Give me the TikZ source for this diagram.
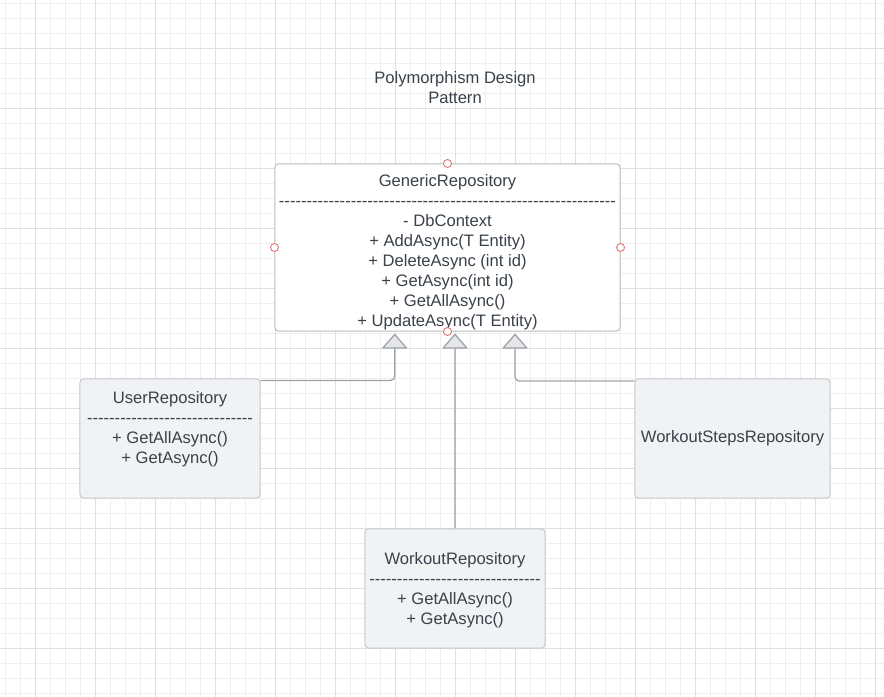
\documentclass[tikz,border=0pt]{standalone}
\usepackage{fontspec}
\setmainfont{Liberation Sans}[Ligatures=TeXOff]
\usetikzlibrary{calc,arrows.meta}
\definecolor{inkgray}{HTML}{3A414A}
\definecolor{gridminor}{HTML}{EFEFEF}
\definecolor{gridmajor}{HTML}{E0E0E0}
\definecolor{boxfill}{HTML}{F1F2F4}
\definecolor{boxline}{HTML}{C6C9CE}
\definecolor{baseline}{HTML}{B9BCC1}
\definecolor{linkgray}{HTML}{9EA2A9}
\definecolor{headfill}{HTML}{E4E6E9}
\definecolor{portred}{HTML}{E26D6D}

\begin{document}
\begin{tikzpicture}[x=0.025cm,y=-0.025cm,font=\fontsize{11.8}{14.2}\selectfont]

\tikzset{classbox/.style={draw=boxline,fill=boxfill,line width=0.7pt,rounded corners=2.5pt,minimum width=4.5cm,minimum height=2.975cm,inner sep=0pt},
basebox/.style={classbox,draw=baseline,fill=white,minimum width=8.625cm,minimum height=4.175cm},
membertext/.style={text=inkgray,align=center,inner sep=0pt,anchor=north},
portdot/.style={circle,draw=portred,fill=white,line width=0.6pt,minimum size=0.2cm,inner sep=0pt},
inherits/.style={draw=linkgray,line width=0.9pt,rounded corners=3pt,-{Triangle[length=10.7pt,width=18.5pt,fill=headfill,round]}}}

\useasboundingbox (0,0) rectangle (884,697);

% Grid
\fill[white] (0,0) rectangle (884,697);
\foreach \x in {5,20,...,880} \draw[gridminor,line width=0.7pt] (\x,0) -- (\x,697);
\foreach \y in {3.3,18.3,...,695} \draw[gridminor,line width=0.7pt] (0,\y) -- (884,\y);
\foreach \x in {35,95,...,880} \draw[gridmajor,line width=0.7pt] (\x,0) -- (\x,697);
\foreach \y in {48.3,108.3,...,695} \draw[gridmajor,line width=0.7pt] (0,\y) -- (884,\y);

% Title
\node[text=inkgray,align=center] (title) at (455,88) {Polymorphism Design\\Pattern};

% Classes
\node[basebox] (generic) at (447.5,247.5) {};
\node[classbox] (user) at (170,438.5) {};
\node[classbox] (workout) at (455,588.5) {};
\node[classbox,minimum width=4.875cm,text=inkgray] (steps) at (732.5,438.5) {WorkoutStepsRepository};

% Members
\node[membertext] (genericText) at ($(generic.north)+(0,11)$) {GenericRepository\\-------------------------------------------------------------\\- DbContext\\+ AddAsync(T Entity)\\+ DeleteAsync (int id)\\+ GetAsync(int id)\\+ GetAllAsync()\\+ UpdateAsync(T Entity)};
\node[membertext] (userText) at ($(user.north)+(0,12.7)$) {UserRepository\\------------------------------\\+ GetAllAsync()\\+ GetAsync()};
\node[membertext] (workoutText) at ($(workout.north)+(0,23.3)$) {WorkoutRepository\\-------------------------------\\+ GetAllAsync()\\+ GetAsync()};

% Arrow tips under the base class
\coordinate (tipUser) at ($(generic.south)+(-52.8,2.3)$);
\coordinate (tipWorkout) at ($(generic.south)+(7.5,2.3)$);
\coordinate (tipSteps) at ($(generic.south)+(67.5,2.3)$);

% Inheritance
\draw[inherits] ($(user.north east)+(0,2)$) -| (tipUser);
\draw[inherits] (workout.north) -- (tipWorkout);
\draw[inherits] ($(steps.north west)+(0,2.5)$) -| (tipSteps);

% Ports
\foreach \a in {north,south,east,west} \node[portdot] (port-\a) at (generic.\a) {};

\end{tikzpicture}
\end{document}
